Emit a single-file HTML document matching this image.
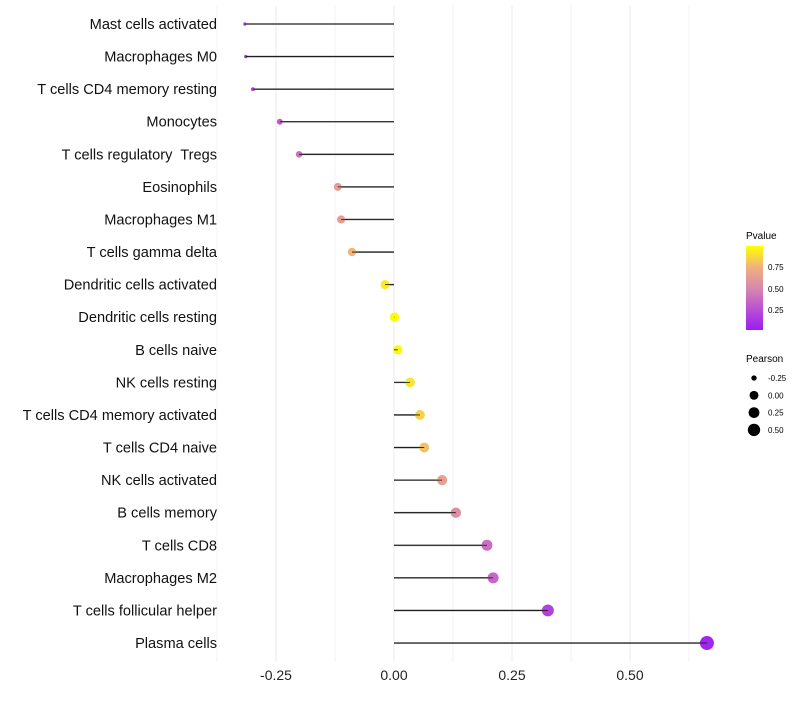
<!DOCTYPE html>
<html><head><meta charset="utf-8"><style>
body{margin:0;background:#fff;font-family:"Liberation Sans",sans-serif}
text{white-space:pre}
</style></head><body>
<svg id="c" width="800" height="700" xmlns="http://www.w3.org/2000/svg">
<defs><linearGradient id="g" x1="0" y1="1" x2="0" y2="0">
<stop offset="0" stop-color="#9c1cf2"/><stop offset="0.3" stop-color="#c05ccc"/><stop offset="0.5" stop-color="#d888ae"/><stop offset="0.75" stop-color="#f0b27c"/><stop offset="1" stop-color="#ffff00"/></linearGradient></defs>
<g id="grid"></g><g id="marks"></g><g id="labels"></g>
<g>
<text x="746" y="239" font-size="10">Pvalue</text>
<rect x="746" y="246" width="17" height="84" fill="url(#g)"/>
<g font-size="8"><text x="768" y="270">0.75</text><text x="768" y="292">0.50</text><text x="768" y="313">0.25</text></g>
</g>
<g>
<text x="746" y="362" font-size="10">Pearson</text>
<g id="sizeleg" font-size="8"></g>
</g>
</svg>
<script>
const cats=["Mast cells activated","Macrophages M0","T cells CD4 memory resting","Monocytes","T cells regulatory  Tregs","Eosinophils","Macrophages M1","T cells gamma delta","Dendritic cells activated","Dendritic cells resting","B cells naive","NK cells resting","T cells CD4 memory activated","T cells CD4 naive","NK cells activated","B cells memory","T cells CD8","Macrophages M2","T cells follicular helper","Plasma cells"];
const pearson=[-0.316,-0.314,-0.299,-0.242,-0.201,-0.119,-0.112,-0.089,-0.019,0.001,0.008,0.034,0.055,0.064,0.102,0.131,0.197,0.21,0.326,0.663];
const pvals=[0.15,0.12,0.2,0.3,0.4,0.63,0.63,0.76,0.93,0.99,0.97,0.92,0.85,0.8,0.65,0.55,0.38,0.35,0.18,0.05];
const xticks=[-0.25,0,0.25,0.5];
const sizeLegend=[-0.25,0,0.25,0.5];
const NS="http://www.w3.org/2000/svg";
const X=v=>394+v*472, Y=i=>24+i*32.58;
const rk=[[-0.32,1.6],[-0.24,3],[-0.12,4],[0,4.7],[0.33,6],[0.66,7]];
function R(v){if(v<=rk[0][0])return rk[0][1];for(let k=1;k<rk.length;k++){if(v<=rk[k][0]){const a=rk[k-1],b=rk[k];return a[1]+(b[1]-a[1])*(v-a[0])/(b[0]-a[0]);}}return 7;}
function col(p){const st=[[0,[156,28,242]],[0.3,[192,92,204]],[0.5,[216,136,174]],[0.75,[240,178,124]],[1,[255,255,0]]];
for(let k=1;k<st.length;k++){if(p<=st[k][0]){const a=st[k-1],b=st[k],t=(p-a[0])/(b[0]-a[0]);return "rgb("+a[1].map((c,j)=>Math.round(c+(b[1][j]-c)*t)).join(",")+")";}}return "rgb(255,255,0)";}
function mk(t,a,p){const e=document.createElementNS(NS,t);for(const k in a)e.setAttribute(k,a[k]);p.appendChild(e);return e;}
const grid=document.getElementById('grid'),marks=document.getElementById('marks'),labels=document.getElementById('labels');
for(let v=-0.375;v<=0.626;v+=0.125){const l=mk('line',{x1:X(v),x2:X(v),y1:5,y2:662,stroke:'#ebebeb','stroke-width':Math.abs((v*8)%2)<0.01?1:0.6},grid);

}
xticks.forEach(v=>{const t=mk('text',{x:X(v),y:680,'text-anchor':'middle','font-size':14,fill:'#222'},labels);t.textContent=v.toFixed(2);

});
cats.forEach((c,i)=>{const t=mk('text',{x:217,y:Y(i)+5,'text-anchor':'end','font-size':14.6,fill:'#111'},labels);t.textContent=c;


const ln=mk('line',{x1:X(0),x2:X(pearson[i]),y1:Y(i),y2:Y(i),stroke:'#777','stroke-width':1.6},marks);


const d=mk('circle',{cx:X(pearson[i]),cy:Y(i),r:R(pearson[i]),fill:col(pvals[i])},marks);


const ln2=mk('line',{x1:X(0),x2:X(pearson[i]),y1:Y(i),y2:Y(i),stroke:'#111','stroke-width':0.8},marks);

});
const sl=document.getElementById('sizeleg');
sizeLegend.forEach((v,i)=>{const y=378+i*17.3;const c=mk('circle',{cx:754,cy:y,r:R(v)*0.95,fill:'#000'},sl);


const t=mk('text',{x:768,y:y+3},sl);t.textContent=v.toFixed(2);

});
</script>
</body></html>
